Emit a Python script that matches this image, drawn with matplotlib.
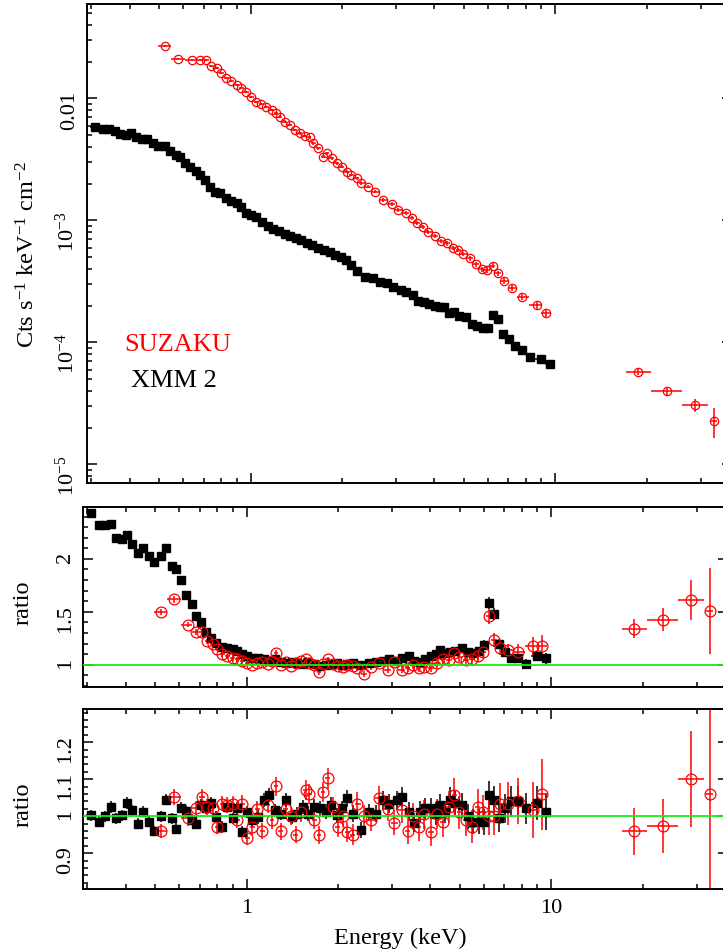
import numpy as np
import matplotlib
matplotlib.use("Agg")
import matplotlib.pyplot as plt
from matplotlib.ticker import (LogLocator, MultipleLocator, FixedLocator,
                               FuncFormatter, NullFormatter)

plt.rcParams["font.family"] = "Liberation Serif"
plt.rcParams["mathtext.fontset"] = "custom"
plt.rcParams["mathtext.rm"] = "Liberation Serif"
plt.rcParams["mathtext.it"] = "Liberation Serif:italic"
plt.rcParams["mathtext.bf"] = "Liberation Serif:bold"

# ---- XMM (pn) unfolded spectrum and ratios -------------------------------
xmm_energy = np.array([
    0.307, 0.327, 0.342, 0.358, 0.373, 0.388, 0.403, 0.419, 0.438, 0.455,
    0.476, 0.496, 0.522, 0.545, 0.567, 0.585, 0.607, 0.631, 0.660, 0.680,
    0.706, 0.733, 0.762, 0.791, 0.832, 0.864, 0.898, 0.932, 0.968, 1.005,
    1.044, 1.087, 1.137, 1.181, 1.236, 1.293, 1.343, 1.405, 1.459, 1.527,
    1.586, 1.660, 1.737, 1.817, 1.887, 1.975, 2.051, 2.141, 2.234, 2.368,
    2.510, 2.652, 2.790, 2.934, 3.102, 3.245, 3.396, 3.543, 3.700, 3.851,
    4.021, 4.176, 4.314, 4.470, 4.643, 4.832, 5.083, 5.307, 5.537, 5.768,
    6.017, 6.220, 6.459, 6.708, 7.020, 7.345, 7.745, 8.249, 8.942, 9.593])
xmm_flux = np.array([
    5.87e-3, 5.59e-3, 5.59e-3, 5.41e-3, 5.12e-3, 5.02e-3, 5.19e-3, 4.81e-3, 4.63e-3, 4.63e-3,
    4.29e-3, 4.10e-3, 4.08e-3, 3.73e-3, 3.44e-3, 3.30e-3, 2.98e-3, 2.76e-3, 2.56e-3, 2.36e-3,
    2.15e-3, 1.89e-3, 1.72e-3, 1.67e-3, 1.52e-3, 1.44e-3, 1.38e-3, 1.30e-3, 1.16e-3, 1.11e-3,
    1.06e-3, 9.72e-4, 9.01e-4, 8.52e-4, 8.20e-4, 7.75e-4, 7.46e-4, 7.19e-4, 6.92e-4, 6.54e-4,
    6.30e-4, 5.95e-4, 5.73e-4, 5.52e-4, 5.21e-4, 5.02e-4, 4.75e-4, 4.32e-4, 3.88e-4, 3.46e-4,
    3.40e-4, 3.15e-4, 3.09e-4, 2.87e-4, 2.69e-4, 2.61e-4, 2.45e-4, 2.20e-4, 2.15e-4, 2.07e-4,
    1.99e-4, 1.97e-4, 1.97e-4, 1.74e-4, 1.77e-4, 1.65e-4, 1.61e-4, 1.42e-4, 1.37e-4, 1.31e-4,
    1.32e-4, 1.68e-4, 1.55e-4, 1.17e-4, 1.06e-4, 9.36e-5, 8.68e-5, 7.65e-5, 7.32e-5, 6.63e-5])
xmm_ratio_pl = np.array([
    2.43, 2.32, 2.32, 2.33, 2.20, 2.19, 2.23, 2.14, 2.06, 2.10,
    2.03, 1.97, 2.03, 2.10, 1.93, 1.90, 1.80, 1.66, 1.57, 1.46,
    1.40, 1.31, 1.25, 1.21, 1.17, 1.16, 1.15, 1.13, 1.10, 1.08,
    1.06, 1.06, 1.05, 1.04, 1.05, 1.03, 1.02, 1.03, 1.02, 1.01,
    1.03, 1.01, 0.99, 1.00, 1.01, 1.02, 1.00, 1.01, 1.02, 1.00,
    1.02, 1.03, 1.04, 1.05, 1.04, 1.06, 1.08, 1.04, 1.03, 1.05,
    1.085, 1.10, 1.14, 1.11, 1.125, 1.13, 1.16, 1.12, 1.11, 1.13,
    1.19, 1.58, 1.48, 1.20, 1.12, 1.06, 1.06, 1.01, 1.08, 1.06])
xmm_ratio_best = np.array([
    1.003, 0.985, 1.000, 1.025, 0.994, 1.003, 1.036, 1.016, 0.980, 1.012,
    0.985, 0.960, 1.000, 1.045, 0.994, 0.966, 1.023, 1.014, 0.991, 0.980,
    1.030, 1.021, 1.036, 0.998, 0.971, 1.025, 0.994, 1.021, 0.958, 1.012,
    0.989, 0.998, 1.043, 1.057, 1.016, 1.007, 1.043, 0.998, 1.007, 1.025,
    1.007, 1.025, 1.021, 1.012, 1.030, 1.003, 1.021, 1.048, 1.007, 0.962,
    1.012, 1.007, 1.043, 1.034, 1.043, 1.052, 1.012, 0.982, 1.012, 1.021,
    1.021, 1.007, 1.030, 1.012, 1.045, 1.036, 1.030, 1.000, 0.985, 0.985,
    0.985, 1.057, 1.043, 0.994, 1.021, 1.041, 1.041, 1.021, 1.036, 1.012])
xmm_rel_err = np.array([
    0.015, 0.015, 0.015, 0.015, 0.015, 0.015, 0.015, 0.015, 0.015, 0.015,
    0.015, 0.015, 0.015, 0.015, 0.015, 0.015, 0.015, 0.015, 0.015, 0.015,
    0.016, 0.016, 0.016, 0.016, 0.016, 0.016, 0.016, 0.016, 0.016, 0.016,
    0.018, 0.018, 0.018, 0.018, 0.018, 0.018, 0.018, 0.018, 0.018, 0.018,
    0.020, 0.020, 0.020, 0.020, 0.020, 0.020, 0.020, 0.022, 0.022, 0.022,
    0.022, 0.022, 0.024, 0.024, 0.024, 0.026, 0.026, 0.026, 0.028, 0.028,
    0.028, 0.030, 0.030, 0.030, 0.032, 0.032, 0.032, 0.034, 0.034, 0.034,
    0.036, 0.036, 0.036, 0.038, 0.038, 0.040, 0.040, 0.042, 0.045, 0.050])

# ---- Suzaku XIS unfolded spectrum and ratios ------------------------------
xis_energy = np.array([
    0.522, 0.577, 0.639, 0.680, 0.712, 0.743, 0.772, 0.801, 0.832, 0.864,
    0.898, 0.932, 0.968, 1.005, 1.044, 1.084, 1.126, 1.170, 1.214, 1.245,
    1.293, 1.343, 1.395, 1.449, 1.504, 1.563, 1.602, 1.663, 1.727, 1.773,
    1.841, 1.912, 1.986, 2.062, 2.141, 2.224, 2.309, 2.427, 2.554, 2.720,
    2.898, 3.046, 3.245, 3.371, 3.501, 3.664, 3.823, 4.021, 4.198, 4.392,
    4.618, 4.796, 4.981, 5.239, 5.482, 5.723, 5.943, 6.220, 6.490, 6.789,
    7.214, 7.745, 8.677, 9.307])
xis_flux = np.array([
    2.71e-2, 2.11e-2, 2.08e-2, 2.056e-2, 2.056e-2, 1.846e-2, 1.768e-2, 1.627e-2, 1.464e-2, 1.39e-2,
    1.29e-2, 1.212e-2, 1.137e-2, 1.035e-2, 9.41e-3, 9.02e-3, 8.47e-3, 8.05e-3, 7.56e-3, 7.10e-3,
    6.45e-3, 6.07e-3, 5.52e-3, 5.19e-3, 4.93e-3, 4.81e-3, 4.29e-3, 3.91e-3, 3.33e-3, 3.56e-3,
    3.23e-3, 2.94e-3, 2.76e-3, 2.51e-3, 2.36e-3, 2.22e-3, 2.02e-3, 1.89e-3, 1.72e-3, 1.47e-3,
    1.365e-3, 1.22e-3, 1.145e-3, 1.042e-3, 9.49e-4, 8.89e-4, 8.09e-4, 7.46e-4, 6.83e-4, 6.50e-4,
    5.98e-4, 5.73e-4, 5.31e-4, 4.90e-4, 4.38e-4, 4.00e-4, 3.93e-4, 4.26e-4, 3.69e-4, 3.19e-4,
    2.78e-4, 2.37e-4, 2.03e-4, 1.735e-4])
xis_ratio_pl = np.array([
    1.50, 1.62, 1.38, 1.31, 1.31, 1.22, 1.20, 1.15, 1.10, 1.08,
    1.06, 1.05, 1.04, 1.02, 1.00, 1.02, 1.03, 1.01, 1.04, 1.11,
    1.00, 1.03, 0.99, 1.02, 1.04, 1.05, 1.02, 1.00, 0.93, 1.01,
    1.05, 1.01, 0.99, 0.98, 1.00, 0.99, 0.97, 0.915, 0.98, 1.016,
    0.953, 1.03, 0.953, 0.97, 1.00, 0.969, 0.98, 0.969, 1.016, 1.054,
    1.047, 1.11, 1.073, 1.047, 1.054, 1.08, 1.116, 1.456, 1.236, 1.157,
    1.135, 1.125, 1.173, 1.179])
xis_ratio_best = np.array([
    0.959, 1.052, 0.994, 1.021, 1.052, 1.025, 1.021, 0.971, 1.034, 1.030,
    1.034, 0.989, 1.034, 0.942, 0.970, 1.020, 0.960, 1.030, 0.990, 1.081,
    0.959, 1.020, 1.000, 0.950, 1.010, 1.070, 1.060, 0.990, 0.950, 1.066,
    1.102, 1.025, 0.971, 1.000, 0.958, 0.950, 1.034, 1.000, 0.990, 1.048,
    1.020, 0.982, 1.016, 0.960, 1.000, 0.971, 1.005, 0.958, 1.005, 0.985,
    1.025, 1.057, 1.010, 0.990, 0.971, 1.025, 1.010, 1.000, 1.000, 1.034,
    1.034, 1.041, 1.016, 1.059])
xis_rel_err = np.array([
    0.020, 0.020, 0.020, 0.020, 0.020, 0.020, 0.020, 0.020, 0.020, 0.020,
    0.020, 0.020, 0.022, 0.022, 0.022, 0.022, 0.022, 0.022, 0.024, 0.024,
    0.024, 0.024, 0.024, 0.025, 0.025, 0.025, 0.025, 0.026, 0.026, 0.026,
    0.026, 0.027, 0.027, 0.028, 0.028, 0.029, 0.030, 0.030, 0.031, 0.032,
    0.033, 0.034, 0.035, 0.036, 0.037, 0.038, 0.039, 0.040, 0.040, 0.041,
    0.042, 0.043, 0.044, 0.045, 0.046, 0.047, 0.048, 0.050, 0.052, 0.054,
    0.056, 0.060, 0.075, 0.090])

# ---- Suzaku PIN bins ---------------------------------------------------------
pin_energy = np.array([18.7, 23.2, 28.8, 33.1])
pin_lo = np.array([17.0, 20.6, 26.1, 32.3])
pin_hi = np.array([20.6, 26.1, 31.7, 34.0])
pin_flux = np.array([5.77e-5, 4.01e-5, 3.08e-5, 2.27e-5])
pin_ratio_pl = np.array([1.34, 1.425, 1.61, 1.51])
pin_ratio_best = np.array([0.959, 0.973, 1.10, 1.061])
pin_rel_err = np.array([0.066, 0.075, 0.118, 0.27])

E_MIN, E_MAX = 0.29, 38.0


def log_bin_errors(e):
    """Half-widths of contiguous channels, edges midway in log space."""
    mid = np.sqrt(e[1:] * e[:-1])
    lo = np.concatenate([[e[0] ** 2 / mid[0]], mid])
    hi = np.concatenate([mid, [e[-1] ** 2 / mid[-1]]])
    return np.vstack([e - lo, hi - e])


xmm_xerr = log_bin_errors(xmm_energy)
xis_xerr = log_bin_errors(xis_energy)
pin_xerr = np.vstack([pin_energy - pin_lo, pin_hi - pin_energy])

W, H = 723, 951
fig = plt.figure(figsize=(W / 100, H / 100), dpi=100)
ax1 = fig.add_axes([87 / W, 1 - 483 / H, 645 / W, 479 / H])
ax2 = fig.add_axes([83 / W, 1 - 687 / H, 645 / W, 180 / H])
ax3 = fig.add_axes([83 / W, 1 - 889 / H, 645 / W, 180 / H])

xmm_style = dict(fmt="s", color="black", ecolor="black", elinewidth=1.1,
                 capsize=0, mec="black", mfc="black")
sz_style = dict(fmt="o", color="red", ecolor="red", elinewidth=1.1,
                capsize=0, mec="red", mfc="none", mew=0.9)

# top: unfolded spectra
ax1.errorbar(xmm_energy, xmm_flux, xerr=xmm_xerr, yerr=xmm_flux * xmm_rel_err,
             ms=5.2, **xmm_style)
ax1.errorbar(xis_energy, xis_flux, xerr=xis_xerr, yerr=xis_flux * xis_rel_err,
             ms=6, **sz_style)
ax1.errorbar(pin_energy, pin_flux, xerr=pin_xerr, yerr=pin_flux * pin_rel_err,
             ms=6, **sz_style)

# ratio panels
for ax, rx, rs, rp in [(ax2, xmm_ratio_pl, xis_ratio_pl, pin_ratio_pl),
                       (ax3, xmm_ratio_best, xis_ratio_best, pin_ratio_best)]:
    ax.errorbar(xmm_energy, rx, xerr=xmm_xerr, yerr=rx * xmm_rel_err,
                ms=6.3, **xmm_style)
    ax.errorbar(xis_energy, rs, xerr=xis_xerr, yerr=rs * xis_rel_err,
                ms=7.8, **sz_style)
    ax.errorbar(pin_energy, rp, xerr=pin_xerr, yerr=rp * pin_rel_err,
                ms=7.8, **sz_style)
    ax.axhline(1.0, color="#11ee11", lw=1.3, zorder=10)

ax1.set_yscale("log")
ax1.set_ylim(7.05e-6, 0.0595)
ax1.yaxis.set_major_locator(FixedLocator([1e-5, 1e-4, 1e-3, 1e-2]))
ax1.yaxis.set_minor_locator(LogLocator(base=10, subs=np.arange(2, 10)))
ax1.yaxis.set_major_formatter(FuncFormatter(
    lambda v, p: "0.01" if abs(v - 0.01) < 1e-9 else
    r"$10^{%d}$" % int(round(np.log10(v)))))
ax1.yaxis.set_minor_formatter(NullFormatter())

ax2.set_ylim(0.79, 2.49)
ax2.yaxis.set_major_locator(MultipleLocator(0.5))
ax2.yaxis.set_minor_locator(MultipleLocator(0.1))

ax3.set_ylim(0.803, 1.29)
ax3.yaxis.set_major_locator(MultipleLocator(0.1))
ax3.yaxis.set_minor_locator(MultipleLocator(0.02))

fmt_g = FuncFormatter(lambda v, p: "%g" % round(v, 3))
for ax in (ax2, ax3):
    ax.yaxis.set_major_formatter(fmt_g)

for ax in (ax1, ax2, ax3):
    ax.set_xscale("log")
    ax.set_xlim(E_MIN, E_MAX)
    ax.xaxis.set_major_locator(FixedLocator([1, 10]))
    ax.xaxis.set_minor_locator(LogLocator(base=10, subs=np.arange(2, 10)))
    ax.xaxis.set_major_formatter(fmt_g)
    ax.xaxis.set_minor_formatter(NullFormatter())
    ax.tick_params(which="both", direction="in", top=True, right=True,
                   width=1.1, labelsize=16)
    ax.tick_params(which="major", length=7.5)
    ax.tick_params(which="minor", length=3.8)
    ax.tick_params(axis="y", labelrotation=90, pad=6)
    for s in ax.spines.values():
        s.set_linewidth(1.4)

ax1.tick_params(labelbottom=False)
ax2.tick_params(labelbottom=False)
ax3.tick_params(axis="x", pad=7)

ax1.set_ylabel(r"Cts s$^{-1}$ keV$^{-1}$ cm$^{-2}$", fontsize=17.5)
ax1.yaxis.set_label_coords((40 - 87) / 645, 0.476)
ax2.set_ylabel("ratio", fontsize=17.5)
ax2.yaxis.set_label_coords((34 - 83) / 645, 0.467)
ax3.set_ylabel("ratio", fontsize=17.5)
ax3.yaxis.set_label_coords((34 - 83) / 645, 0.467)
ax3.set_xlabel("Energy (keV)", fontsize=17.5)
ax3.xaxis.set_label_coords(0.4915, -0.215)

ax1.text((124 - 87) / 645, (483 - 351) / 479, "SUZAKU", color="red",
         fontsize=19, transform=ax1.transAxes, va="baseline")
ax1.text((131 - 87) / 645, (483 - 387) / 479, "XMM 2", color="black",
         fontsize=19, transform=ax1.transAxes, va="baseline")

fig.savefig("out.png", dpi=100)
